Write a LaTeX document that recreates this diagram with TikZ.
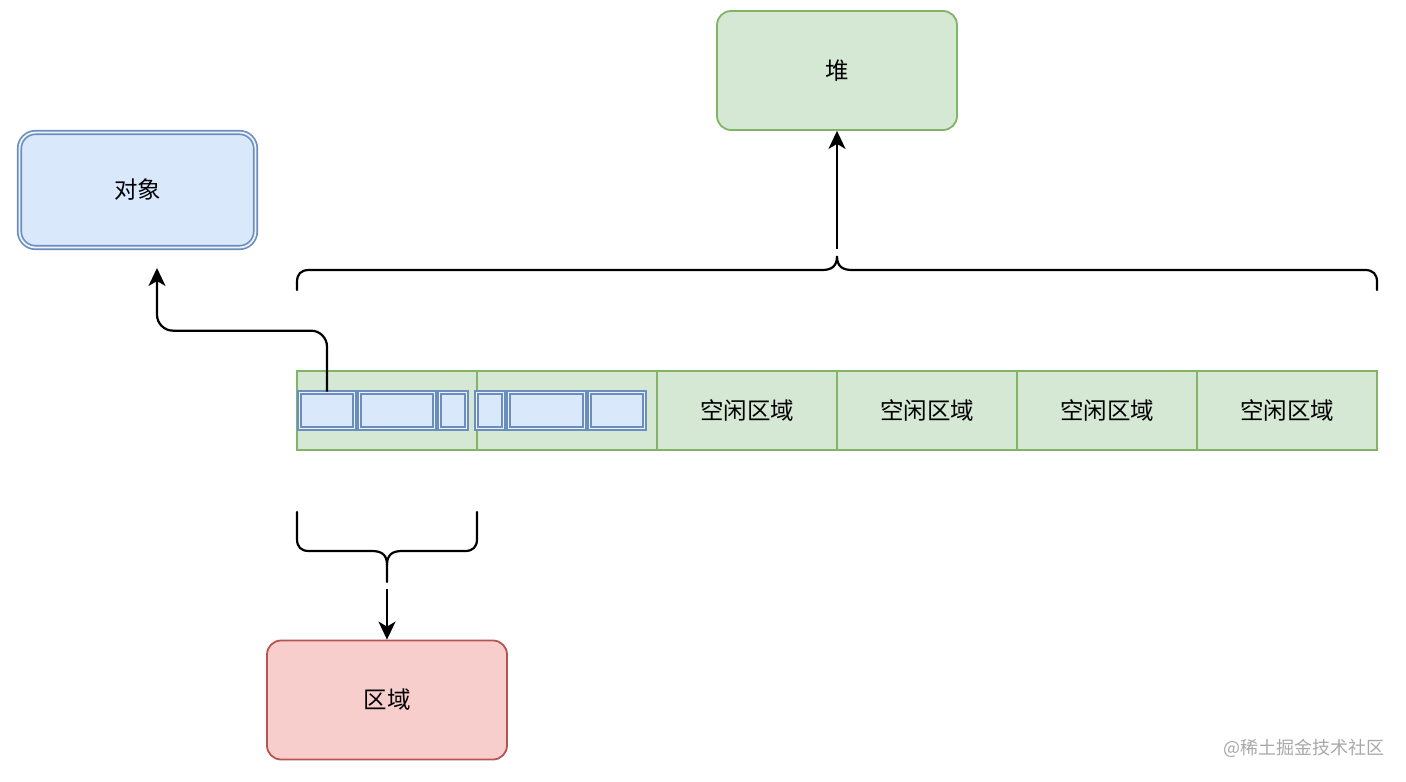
\documentclass[tikz,border=0pt]{standalone}
\usepackage{fontspec}
\setmainfont{Noto Sans CJK SC}
\usetikzlibrary{arrows.meta}
\definecolor{gfill}{HTML}{D5E8D4}
\definecolor{gline}{HTML}{82B366}
\definecolor{bfill}{HTML}{DAE8FC}
\definecolor{bline}{HTML}{6C8EBF}
\definecolor{rfill}{HTML}{F8CECC}
\definecolor{rline}{HTML}{B85450}
\definecolor{wmgray}{HTML}{A8A8A8}
\begin{document}
\begin{tikzpicture}[x=1pt,y=-1pt,
  lbl/.style={font=\fontsize{23.5}{28}\selectfont},
  bigbox/.style={lbl, line width=1.8pt, rounded corners=14pt, minimum width=240pt, minimum height=119pt, inner sep=0pt},
  greenbox/.style={bigbox, draw=gline, fill=gfill},
  redbox/.style={bigbox, draw=rline, fill=rfill},
  objbox/.style={lbl, draw=bline, fill=bfill, line width=1.7pt, double=white!50!bfill, double distance=1.8pt, rounded corners=16pt, minimum width=236pt, minimum height=115pt, inner sep=0pt},
  cell/.style={lbl, draw=gline, fill=gfill, line width=1.8pt, minimum width=180pt, minimum height=79pt, inner sep=0pt},
  blk/.style={draw=bline, fill=bfill, line width=1.7pt, double=white!50!bfill, double distance=1.8pt, minimum height=36pt, inner sep=0pt},
  conn/.style={line width=2.2pt, -{Stealth[length=18pt,width=17pt,inset=5pt]}},
  brace/.style={line width=2.2pt, line cap=round}
]
\useasboundingbox (0,0) rectangle (1406,782);

% boxes
\node[greenbox] (heap) at (837,70.5) {堆};
\node[objbox] (obj) at (137.5,190) {对象};
\node[redbox] (region) at (387,700) {区域};

% heap strip cells
\node[cell] (c1) at (387,410.5) {};
\node[cell] (c2) at (567,410.5) {};
\node[cell] (c3) at (747,410.5) {空闲区域};
\node[cell] (c4) at (927,410.5) {空闲区域};
\node[cell] (c5) at (1107,410.5) {空闲区域};
\node[cell] (c6) at (1287,410.5) {空闲区域};

% object blocks
\node[blk, minimum width=55pt] (b1) at (327,410.5) {};
\node[blk, minimum width=75pt] (b2) at (397,410.5) {};
\node[blk, minimum width=27pt] (b3) at (453,410.5) {};
\node[blk, minimum width=27pt] (b4) at (490,410.5) {};
\node[blk, minimum width=76pt] (b5) at (546.5,410.5) {};
\node[blk, minimum width=55pt] (b6) at (617,410.5) {};

% top brace
\draw[brace] (297,290) -- (297,282) .. controls (297,274) and (301,270) .. (309,270)
  -- (822,270) .. controls (832,270) and (837,266) .. (837,256)
  .. controls (837,266) and (842,270) .. (852,270)
  -- (1365,270) .. controls (1373,270) and (1377,274) .. (1377,282) -- (1377,290);
\coordinate (tb) at (837,249);
\draw[conn] (tb) -- (heap.south);

% bottom brace
\draw[brace] (297,512) -- (297,539) .. controls (297,547) and (301,551) .. (309,551)
  -- (372,551) .. controls (382,551) and (387,555) .. (387,565)
  -- (387,582);
\draw[brace] (477,512) -- (477,539) .. controls (477,547) and (473,551) .. (465,551)
  -- (402,551) .. controls (392,551) and (387,555) .. (387,565);
\coordinate (bb) at (387,589);
\draw[conn] (bb) -- (region.north);

% arrow from object block to object
\coordinate (objtip) at (157,268);
\draw[conn, rounded corners=16pt] (b1.north) -- ++(0,-61) -| (objtip);

% watermark
\node[text=wmgray, font=\fontsize{18}{20}\selectfont, anchor=east, inner sep=0pt] (wm) at (1385,748) {@稀土掘金技术社区};
\end{tikzpicture}
\end{document}
